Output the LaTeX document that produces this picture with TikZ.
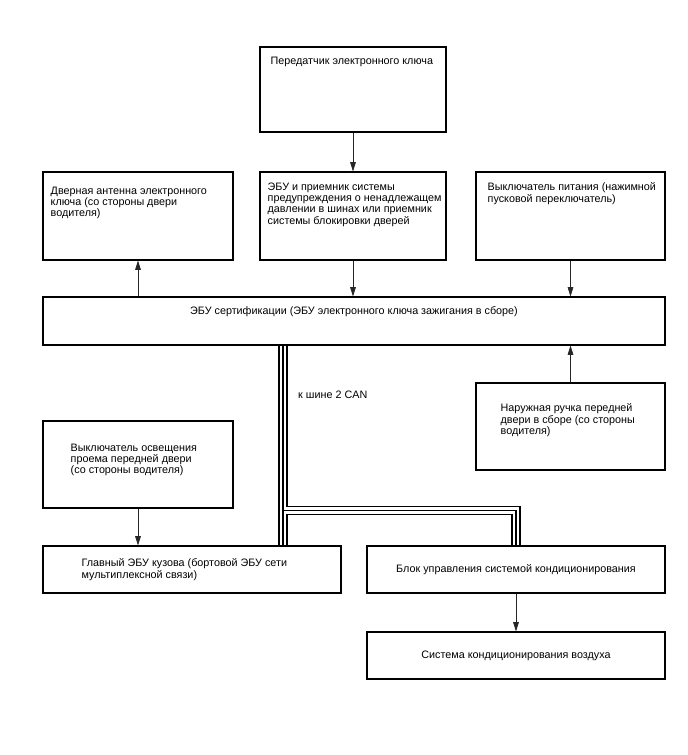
\documentclass[tikz,border=0pt]{standalone}
\usepackage{fontspec}
\setmainfont{Liberation Sans}
\usetikzlibrary{positioning, arrows.meta, calc}

\begin{document}
\begin{tikzpicture}[
  box/.style={draw, line width=0.9pt, inner sep=0pt},
  lbl/.style={anchor=north west, inner sep=0pt, align=left},
  sig/.style={-{Triangle[length=2.8mm, width=1.7mm]}, line width=0.6pt, black!85},
  font=\fontsize{9.2}{9.7}\selectfont
]
\useasboundingbox (0,0) rectangle (20.64,-22.65);

\node[box, minimum width=5.58cm, minimum height=2.55cm] (tx) at (10.59,-2.685) {};
\node[box, minimum width=5.70cm, minimum height=2.64cm] (ant) at (4.14,-6.48) {};
\node[box, minimum width=5.58cm, minimum height=2.64cm] (tpms) at (10.59,-6.48) {};
\node[box, minimum width=5.67cm, minimum height=2.64cm] (psw) at (17.115,-6.48) {};
\node[box, minimum width=18.66cm, minimum height=1.44cm] (cert) at (10.62,-9.63) {};
\node[box, minimum width=5.67cm, minimum height=2.61cm] (hdl) at (17.115,-12.795) {};
\node[box, minimum width=5.70cm, minimum height=2.61cm] (csw) at (4.14,-13.935) {};
\node[box, minimum width=8.94cm, minimum height=1.41cm] (body) at (5.76,-17.085) {};
\node[box, minimum width=8.94cm, minimum height=1.41cm] (acu) at (15.48,-17.085) {Блок управления системой кондиционирования};
\node[box, minimum width=8.94cm, minimum height=1.41cm] (ac) at (15.48,-19.665) {Система кондиционирования воздуха};

\node[lbl] (txlbl) at ([shift={(0.33,-0.30)}]tx.north west) {Передатчик электронного ключа};
\node[lbl] (antlbl) at ([shift={(0.24,-0.45)}]ant.north west) {Дверная антенна электронного\\ключа (со стороны двери\\водителя)};
\node[lbl] (tpmslbl) at ([shift={(0.24,-0.33)}]tpms.north west) {ЭБУ и приемник системы\\предупреждения о ненадлежащем\\давлении в шинах или приемник\\системы блокировки дверей};
\node[lbl] (pswlbl) at ([shift={(0.36,-0.33)}]psw.north west) {Выключатель питания (нажимной\\пусковой переключатель)};
\node[lbl, anchor=north] (certlbl) at ([yshift=-0.30cm]cert.north) {ЭБУ сертификации (ЭБУ электронного ключа зажигания в сборе)};
\node[lbl] (hdllbl) at ([shift={(0.75,-0.63)}]hdl.north west) {Наружная ручка передней\\двери в сборе (со стороны\\водителя)};
\node[lbl] (cswlbl) at ([shift={(0.84,-0.69)}]csw.north west) {Выключатель освещения\\проема передней двери\\(со стороны водителя)};
\node[lbl] (bodylbl) at ([shift={(1.17,-0.39)}]body.north west) {Главный ЭБУ кузова (бортовой ЭБУ сети\\мультиплексной связи)};

\draw[sig] (tx) -- (tpms);
\draw[sig] (tpms.south) -- (tpms.south |- cert.north);
\draw[sig] (psw.south) -- (psw.south |- cert.north);
\draw[sig] (ant.south |- cert.north) -- (ant.south);
\draw[sig] (hdl.north) -- (hdl.north |- cert.south);
\draw[sig] (csw.south) -- (csw.south |- body.north);
\draw[sig] (acu.south) -- (ac.north);

\coordinate (canx) at (8.49,0);
\coordinate (jct) at (0,-15.315);
\draw[line width=1.4pt, double=white, double distance=5.4pt]
  (canx |- cert.south) -- (canx |- body.north)
  (canx |- jct) -- (acu.north |- jct) -- (acu.north);
\draw[line width=1.4pt]
  (canx |- cert.south) -- (canx |- body.north)
  (canx |- jct) -- (acu.north |- jct) -- (acu.north);
\node[anchor=west, inner sep=0pt] (canlbl) at (8.94,-11.85) {к шине 2 CAN};
\end{tikzpicture}
\end{document}
